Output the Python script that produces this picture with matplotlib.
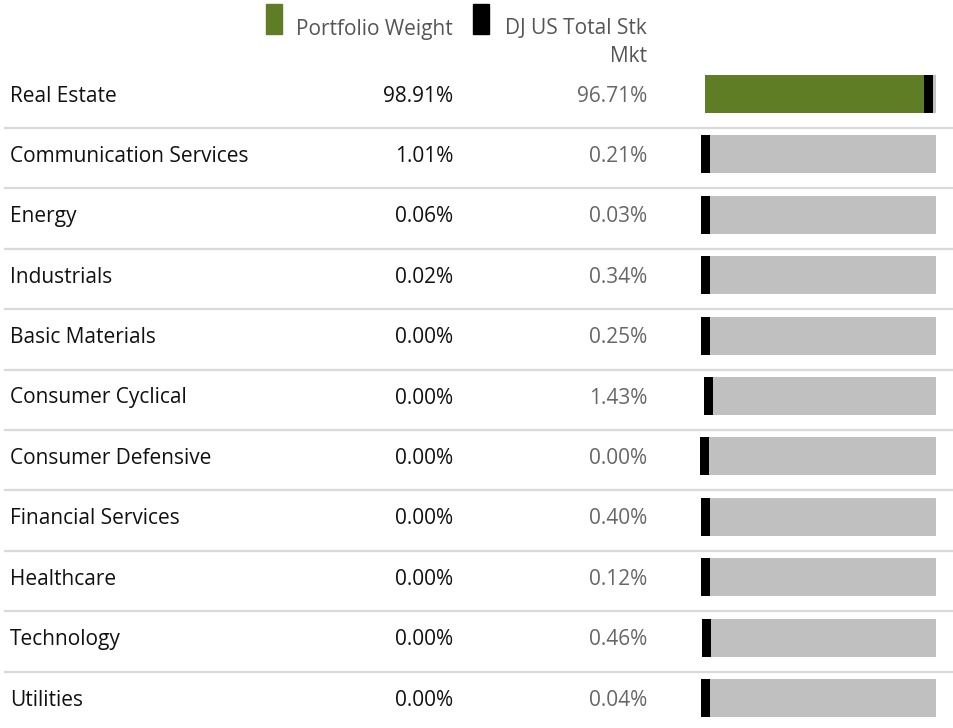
import matplotlib.pyplot as plt
from matplotlib.patches import Rectangle

# Sector weights, portfolio vs benchmark (%)
sectors = ['Real Estate', 'Communication Services', 'Energy', 'Industrials',
           'Basic Materials', 'Consumer Cyclical', 'Consumer Defensive',
           'Financial Services', 'Healthcare', 'Technology', 'Utilities']
portfolio = [98.91, 1.01, 0.06, 0.02, 0.00, 0.00, 0.00, 0.00, 0.00, 0.00, 0.00]
benchmark = [96.71, 0.21, 0.03, 0.34, 0.25, 1.43, 0.00, 0.40, 0.12, 0.46, 0.04]
legend_labels = ['Portfolio Weight', 'DJ US Total Stk\nMkt']

GREEN = '#5e7d24'
TRACK = '#c0c0c0'
LINE = '#d9d9d9'
FONT = ['Open Sans', 'DejaVu Sans']
FS = 15

W, H = 954, 728
fig = plt.figure(figsize=(W / 100, H / 100), dpi=100)
plt.rcParams['font.family'] = FONT

# Text/table layer in pixel coordinates
ax = fig.add_axes([0, 0, 1, 1])
ax.set_xlim(0, W)
ax.set_ylim(H, 0)
ax.axis('off')

row0, step = 94, 60.4
n = len(sectors)

# legend
ax.add_patch(Rectangle((266, 4), 16, 30, color=GREEN))
ax.add_patch(Rectangle((473, 4), 16, 30, color='black'))
bench_lines = legend_labels[1].split('\n')
ax.text(453, 29, legend_labels[0], ha='right', va='center', fontsize=FS, color='#555555')
ax.text(647, 29, bench_lines[0], ha='right', va='center', fontsize=FS, color='#555555')
ax.text(647, 56, bench_lines[1], ha='right', va='center', fontsize=FS, color='#555555')

for i, (s, p, b) in enumerate(zip(sectors, portfolio, benchmark)):
    y = row0 + i * step + 2
    ax.text(10, y, s, ha='left', va='center', fontsize=FS, color='#111111')
    ax.text(453, y, f'{p:.2f}%', ha='right', va='center', fontsize=FS, color='#111111')
    ax.text(647, y, f'{b:.2f}%', ha='right', va='center', fontsize=FS, color='#666666')
    if i < n - 1:
        ax.plot([5, W], [y + 32, y + 32], color=LINE, lw=1.6)

# Bar layer: x axis is percent weight, y axis is row index
x0, x1 = 705, 936
top = row0 - step / 2
bottom = row0 + (n - 0.5) * step
bax = fig.add_axes([x0 / W, 1 - bottom / H, (x1 - x0) / W, (bottom - top) / H])
bax.set_xlim(0, 100)
bax.set_ylim(n - 0.5, -0.5)
bax.axis('off')
rows = list(range(n))
bh = 38 / step
bax.barh(rows, [100] * n, height=bh, color=TRACK, left=0, zorder=1)
bax.barh(rows, portfolio, height=bh, color=GREEN, zorder=2)
# benchmark marker: narrow black bar centred on the benchmark value
mw = 9 / (x1 - x0) * 100
bax.barh(rows, [mw] * n, left=[b - mw / 2 for b in benchmark], height=bh,
         color='black', zorder=3, clip_on=False)

fig.savefig('out.png', dpi=100)
